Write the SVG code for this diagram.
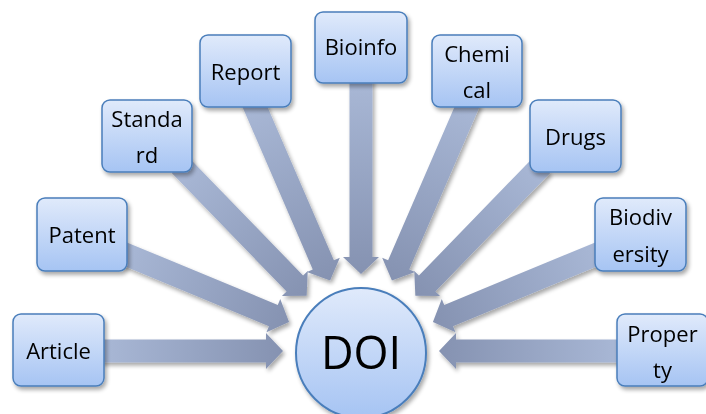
<svg xmlns="http://www.w3.org/2000/svg" width="706" height="414" viewBox="0 0 706 414">
<style>
.box{fill:url(#boxg);stroke:#4a7ebb;stroke-width:1.5}
.lbl{font-family:"Open Sans","Noto Sans",sans-serif;font-size:22px;fill:#000;text-anchor:middle}
.arr{fill:url(#arrg)}
</style>
<defs>
<linearGradient id="boxg" x1="0" y1="0" x2="0" y2="1">
<stop offset="0" stop-color="#e0eafb"/>
<stop offset="1" stop-color="#a6c4f3"/>
</linearGradient>
<linearGradient id="arrg" x1="0" y1="0" x2="1" y2="0">
<stop offset="0" stop-color="#a9b8d6"/>
<stop offset="1" stop-color="#8592b1"/>
</linearGradient>
<filter id="sh" x="-20%" y="-20%" width="140%" height="140%">
<feGaussianBlur in="SourceAlpha" stdDeviation="2"/>
<feOffset dx="2" dy="3" result="b"/>
<feComponentTransfer><feFuncA type="linear" slope="0.35"/></feComponentTransfer>
<feMerge><feMergeNode/><feMergeNode in="SourceGraphic"/></feMerge>
</filter>
</defs>
<rect width="706" height="414" fill="#ffffff"/>
<g id="connectors" filter="url(#sh)">
<path class="arr" transform="translate(100,351)" d="M0,-11.5 H166 V-18 L183,0 L166,18 V11.5 H0 Z"/>
<path class="arr" transform="translate(120,252) rotate(22.5)" d="M0,-11.5 H166 V-18 L183,0 L166,18 V11.5 H0 Z"/>
<path class="arr" transform="translate(180,165) rotate(45.9)" d="M0,-11.5 H165 V-18 L182,0 L165,18 V11.5 H0 Z"/>
<path class="arr" transform="translate(252,100) rotate(66.6)" d="M0,-11.5 H179.6 V-18 L196.6,0 L179.6,18 V11.5 H0 Z"/>
<path class="arr" transform="translate(361,78) rotate(90)" d="M0,-11.5 H179 V-18 L196,0 L179,18 V11.5 H0 Z"/>
<path class="arr" transform="translate(470,100) rotate(113.4)" d="M0,-11.5 H179.6 V-18 L196.6,0 L179.6,18 V11.5 H0 Z"/>
<path class="arr" transform="translate(542,165) rotate(134.1)" d="M0,-11.5 H165 V-18 L182,0 L165,18 V11.5 H0 Z"/>
<path class="arr" transform="translate(602,252) rotate(157.5)" d="M0,-11.5 H166 V-18 L183,0 L166,18 V11.5 H0 Z"/>
<path class="arr" transform="translate(622,351) rotate(180)" d="M0,-11.5 H166 V-18 L183,0 L166,18 V11.5 H0 Z"/>
</g>
<g id="doi" filter="url(#sh)">
<circle cx="361" cy="353" r="65" fill="url(#boxg)" stroke="#4a7ebb" stroke-width="2"/>
<text x="361" y="369" class="lbl" style="font-size:45px">DOI</text>
</g>
<g id="article" filter="url(#sh)">
<rect class="box" x="13" y="314" width="91" height="72" rx="8"/>
<text class="lbl" x="58.5" y="359">Article</text>
</g>
<g id="patent" filter="url(#sh)">
<rect class="box" x="37" y="198" width="90" height="73" rx="8"/>
<text class="lbl" x="82" y="243">Patent</text>
</g>
<g id="standard" filter="url(#sh)">
<rect class="box" x="102" y="100" width="90" height="72" rx="8"/>
<text class="lbl" x="147" y="127">Standa</text>
<text class="lbl" x="147" y="163">rd</text>
</g>
<g id="report" filter="url(#sh)">
<rect class="box" x="200" y="35" width="91" height="72" rx="8"/>
<text class="lbl" x="245.5" y="80">Report</text>
</g>
<g id="bioinfo" filter="url(#sh)">
<rect class="box" x="315" y="12" width="92" height="71" rx="8"/>
<text class="lbl" x="361" y="55">Bioinfo</text>
</g>
<g id="chemical" filter="url(#sh)">
<rect class="box" x="432" y="35" width="90" height="72" rx="8"/>
<text class="lbl" x="477" y="62">Chemi</text>
<text class="lbl" x="477" y="98">cal</text>
</g>
<g id="drugs" filter="url(#sh)">
<rect class="box" x="530" y="100" width="91" height="72" rx="8"/>
<text class="lbl" x="575.5" y="145">Drugs</text>
</g>
<g id="biodiversity" filter="url(#sh)">
<rect class="box" x="595" y="198" width="91" height="73" rx="8"/>
<text class="lbl" x="640.5" y="225">Biodiv</text>
<text class="lbl" x="640.5" y="262">ersity</text>
</g>
<g id="property" filter="url(#sh)">
<rect class="box" x="617" y="314" width="91" height="72" rx="8"/>
<text class="lbl" x="662.5" y="342">Proper</text>
<text class="lbl" x="662.5" y="378">ty</text>
</g>
</svg>
